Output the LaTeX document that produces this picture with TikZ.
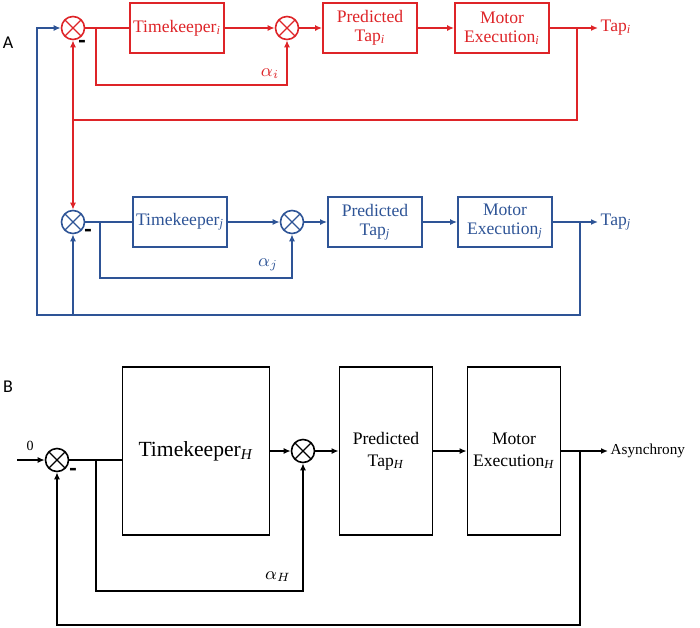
\documentclass[tikz,border=0pt]{standalone}
\usepackage{fontspec}
\setmainfont{Liberation Serif}
\newfontfamily\panelfont{Carlito}
\usetikzlibrary{arrows.meta}
\definecolor{tapred}{RGB}{222,36,40}
\definecolor{tapblue}{RGB}{46,84,150}

\begin{document}
\begin{tikzpicture}[x=0.5pt, y=-0.5pt,
    >={Latex[length=3.5pt,width=3pt]},
    line width=0.7pt,
    sum/.style={circle, draw, line width=0.8pt, minimum size=11.5pt, inner sep=0pt,
        path picture={\draw[line width=0.6pt]
            (path picture bounding box.south west) -- (path picture bounding box.north east)
            (path picture bounding box.north west) -- (path picture bounding box.south east);}},
    block/.style={draw, line width=0.9pt, align=center, inner sep=1pt,
        minimum width=47pt, minimum height=25pt, font=\fontsize{8.8}{9.5}\selectfont},
    bigblock/.style={block, minimum width=46.5pt, minimum height=84pt,
        font=\fontsize{8.8}{11}\selectfont},
    minus/.style={inner sep=0pt, text=black, font=\panelfont\bfseries\fontsize{12}{12}\selectfont},
    sig/.style={inner sep=1pt, anchor=west, font=\fontsize{8.8}{10}\selectfont},
    gain/.style={inner sep=0pt, font=\fontsize{9}{10}\selectfont},
    panel/.style={inner sep=0pt, font=\panelfont\fontsize{9}{10}\selectfont}]

    \useasboundingbox (0,0) rectangle (700,627);

    \node[panel] (labA) at (8,43) {A};
    \node[panel] (labB) at (8,387) {B};

    % subject i
    \begin{scope}[tapred]
        \node[sum] (sumi) at (73,28) {};
        \node[block] (tki) at (177,28) {Timekeeper\textsubscript{\textit{i}}};
        \node[sum] (sumii) at (287,28) {};
        \node[block] (predi) at (370,28) {Predicted\\Tap\textsubscript{\textit{i}}};
        \node[block] (moti) at (502,28) {Motor\\Execution\textsubscript{\textit{i}}};
        \node[sig] (tapi) at (598,28) {Tap\textsubscript{\textit{i}}};
        \node[gain] (alphai) at (270,74) {$\alpha_i$};
    \end{scope}

    % subject j
    \begin{scope}[tapblue]
        \node[sum] (sumj) at (73,222) {};
        \node[block] (tkj) at (180,222) {Timekeeper\textsubscript{\textit{j}}};
        \node[sum] (sumjj) at (292,222) {};
        \node[block] (predj) at (375,222) {Predicted\\Tap\textsubscript{\textit{j}}};
        \node[block] (motj) at (505,222) {Motor\\Execution\textsubscript{\textit{j}}};
        \node[sig] (tapj) at (598,222) {Tap\textsubscript{\textit{j}}};
        \node[gain] (alphaj) at (268,265) {$\alpha_j$};
    \end{scope}

    \node[minus] (mini) at (82,44) {-};
    \node[minus] (minj) at (88,233) {-};
    \node[minus] (minH) at (73,472) {-};

    % red loop
    \begin{scope}[tapred]
        \coordinate (bri) at (96,28);
        \coordinate (ai) at (96,85);
        \coordinate (obi) at (577,28);
        \coordinate (ri) at (73,120);
        \draw (sumi) -- (tki);
        \draw[->] (bri) -- (ai) -| (sumii);
        \draw[->] (tki) -- (sumii);
        \draw[->] (sumii) -- (predi);
        \draw[->] (predi) -- (moti);
        \draw[->] (moti) -- (tapi);
        \draw (obi) |- (ri);
        \draw[->] (ri) -- (sumi);
        \draw[->] (ri) -- (sumj);
    \end{scope}

    % blue loop
    \begin{scope}[tapblue]
        \coordinate (brj) at (100,222);
        \coordinate (aj) at (100,278);
        \coordinate (obj) at (580,222);
        \coordinate (bl) at (37,315);
        \draw (sumj) -- (tkj);
        \draw[->] (brj) -- (aj) -| (sumjj);
        \draw[->] (tkj) -- (sumjj);
        \draw[->] (sumjj) -- (predj);
        \draw[->] (predj) -- (motj);
        \draw[->] (motj) -- (tapj);
        \draw[->] (obj) |- (bl) |- (sumi);
        \draw[->] (sumj |- bl) -- (sumj);
    \end{scope}

    % single subject
    \node[sum] (sumH) at (57,460) {};
    \node[bigblock, minimum width=73.5pt, font=\fontsize{10.8}{12}\selectfont] (tkH) at (196,451) {Timekeeper\textsubscript{\textit{H}}};
    \node[sum] (sumHH) at (303,451) {};
    \node[bigblock] (predH) at (386,451) {Predicted\\Tap\textsubscript{\textit{H}}};
    \node[bigblock] (motH) at (514,451) {Motor\\Execution\textsubscript{\textit{H}}};
    \node[sig, font=\fontsize{7.6}{9}\selectfont] (asy) at (608,451) {Asynchrony};
    \node[inner sep=0pt, font=\fontsize{7}{8}\selectfont] (zero) at (30,446) {0};
    \node[gain] (alphaH) at (278,577) {$\alpha_H$};

    \coordinate (inH) at (17,460);
    \coordinate (brH) at (96,460);
    \coordinate (aH) at (96,591);
    \coordinate (obH) at (580,451);
    \coordinate (bH) at (57,625);
    \draw[->] (inH) -- (sumH);
    \draw (sumH) -- (tkH.west |- sumH);
    \draw[->] (brH) -- (aH) -| (sumHH);
    \draw[->] (tkH) -- (sumHH);
    \draw[->] (sumHH) -- (predH);
    \draw[->] (predH) -- (motH);
    \draw[->] (motH) -- (asy);
    \draw[->] (obH) |- (bH) -- (sumH);
\end{tikzpicture}
\end{document}
